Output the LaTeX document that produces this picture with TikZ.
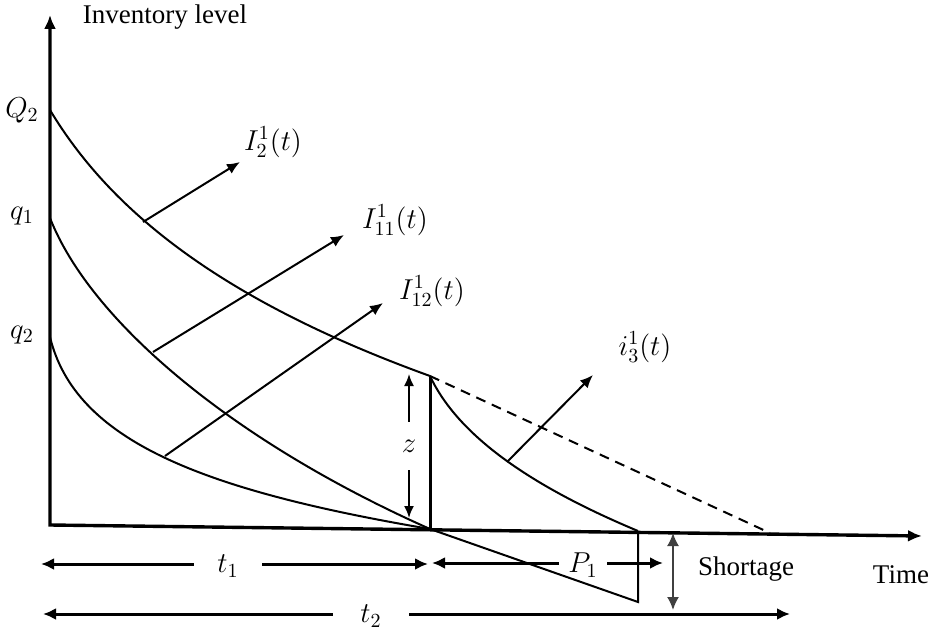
\documentclass[tikz,border=0pt]{standalone}
\usepackage{fontspec}
\setmainfont{Liberation Serif}
\usetikzlibrary{arrows.meta}
\begin{document}
\begin{tikzpicture}[x=0.5pt,y=-0.5pt,
  axis/.style={line width=1.7pt,line join=miter},
  curve/.style={line width=1pt},
  tip/.style={-{Latex[length=6.5pt,width=5.5pt]}},
  ptr/.style={line width=1pt,tip},
  dim/.style={line width=1.5pt,-{Latex[length=6.5pt,width=6pt]}},
  zarr/.style={line width=0.9pt,-{Latex[length=6pt,width=5pt]}},
  lbl/.style={font=\fontsize{13.5}{16}\selectfont,inner sep=0pt},
  mlbl/.style={font=\fontsize{14}{16}\selectfont,inner sep=0pt},
]
\useasboundingbox (0,0) rectangle (932,631);

% key points
\coordinate (O) at (50,525);
\coordinate (Ytop) at (50,15);
\coordinate (Xend) at (922,536);
\coordinate (Q2) at (50,110);
\coordinate (q1) at (50,218);
\coordinate (q2) at (50,337);
\coordinate (T1) at (430,529);
\coordinate (Z) at (430,376);
\coordinate (S) at (638,531);
\coordinate (Sb) at (638,602);
\coordinate (D) at (770,533);

% axes
\draw[axis,{Latex[length=7pt,width=6pt]}-{Latex[length=7pt,width=6pt]}] (Ytop) -- (O) -- (Xend);

% curves
\draw[curve] (Q2) .. controls (110,210) and (220,300) .. (Z);
\draw[curve] (q1) .. controls (90,320) and (230,440) .. (T1);
\draw[curve] (q2) .. controls (75,440) and (200,490) .. (T1);
\draw[curve] (Z) .. controls (460,440) and (540,490) .. (S);
\draw[curve] (T1) -- (Sb) -- (S);
\draw[line width=1.5pt] (Z) -- (T1);
\draw[curve,dash pattern=on 5pt off 3.5pt] (Z) -- (D);

% labels on axes
\node[lbl] (invl) at (165,17) {Inventory level};
\node[mlbl] (lQ2) at (22,110) {$Q_2$};
\node[mlbl] (lq1) at (22,216) {$q_1$};
\node[mlbl] (lq2) at (22,335) {$q_2$};
\node[lbl] (time) at (901,575) {Time};
\node[lbl] (short) at (746,569) {Shortage};

% curve labels with pointers
\node[mlbl] (L2) at (273,142) {$I_{2}^{1}(t)$};
\node[mlbl] (L11) at (395,220) {$I_{11}^{1}(t)$};
\node[mlbl] (L12) at (432,291) {$I_{12}^{1}(t)$};
\node[mlbl] (L3) at (645,347) {$i_{3}^{1}(t)$};
\coordinate (a2) at (143,222);   \coordinate (b2) at (240,162);
\coordinate (a11) at (153,352);  \coordinate (b11) at (344,235);
\coordinate (a12) at (165,456);  \coordinate (b12) at (383,303);
\coordinate (a3) at (507,462);   \coordinate (b3) at (593,375);
\draw[ptr] (a2) -- (b2);
\draw[ptr] (a11) -- (b11);
\draw[ptr] (a12) -- (b12);
\draw[ptr] (a3) -- (b3);

% z
\node[mlbl,minimum height=24pt] (zl) at (409,446) {$z$};
\coordinate (zt) at (409,374);
\coordinate (zb) at (409,518);
\draw[zarr] (zl.north) -- (zt);
\draw[zarr] (zl.south) -- (zb);

% t1
\node[mlbl,minimum width=34pt] (t1) at (228,566) {$t_1$};
\coordinate (t1a) at (41,564);
\coordinate (t1b) at (428,564);
\draw[dim] (t1.west |- t1a) -- (t1a);
\draw[dim] (t1.east |- t1b) -- (t1b);

% P1
\node[mlbl,minimum width=24pt] (P1) at (583,565) {$P_1$};
\coordinate (p1a) at (432,563);
\coordinate (p1b) at (663,563);
\draw[dim] (P1.west |- p1a) -- (p1a);
\draw[dim] (P1.east |- p1b) -- (p1b);

% t2
\node[mlbl,minimum width=38pt] (t2) at (371,616) {$t_2$};
\coordinate (t2a) at (43,614);
\coordinate (t2b) at (790,614);
\draw[dim] (t2.west |- t2a) -- (t2a);
\draw[dim] (t2.east |- t2b) -- (t2b);

% shortage
\coordinate (sh1) at (673,533);
\coordinate (sh2) at (673,610);
\draw[line width=0.9pt,black!75,{Latex[length=6.5pt,width=6pt]}-{Latex[length=6.5pt,width=6pt]}] (sh1) -- (sh2);
\end{tikzpicture}
\end{document}
